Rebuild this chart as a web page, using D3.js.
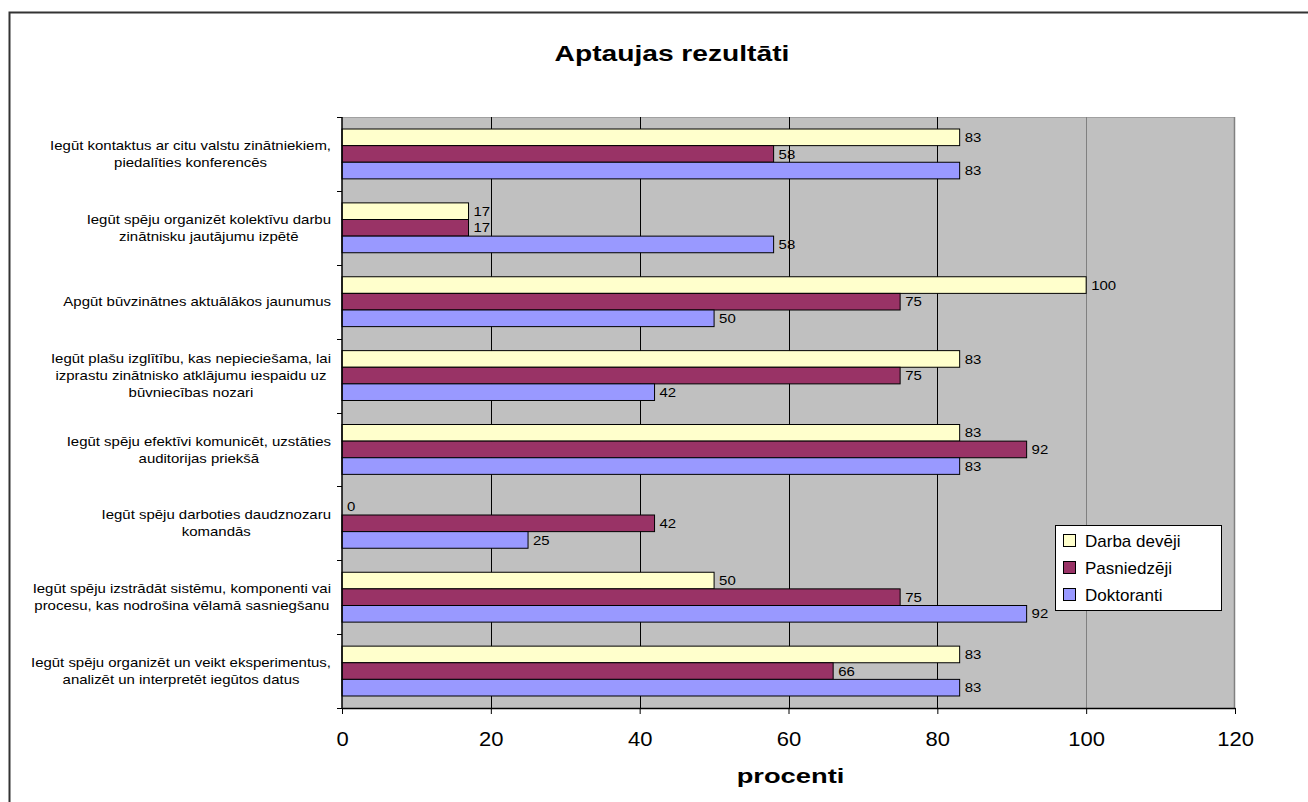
<!DOCTYPE html>
<html>
<head>
<meta charset="utf-8">
<script src="https://cdn.jsdelivr.net/npm/d3@7"></script>
<style>
  html, body { margin: 0; padding: 0; background: #fff; }
  svg { display: block; font-family: Arial, "Liberation Sans", sans-serif; }
</style>
</head>
<body>
<svg id="chart" width="1308" height="802"></svg>
<script>
// Survey statements (each entry holds the wrapped lines of one label)
const categories = [
  ["Iegūt kontaktus ar citu valstu zinātniekiem,", "piedalīties konferencēs"],
  ["Iegūt spēju organizēt kolektīvu darbu", "zinātnisku jautājumu izpētē"],
  ["Apgūt būvzinātnes aktuālākos jaunumus"],
  ["Iegūt plašu izglītību, kas nepieciešama, lai", "izprastu zinātnisko atklājumu iespaidu uz", "būvniecības nozari"],
  ["Iegūt spēju efektīvi komunicēt, uzstāties", "auditorijas priekšā"],
  ["Iegūt spēju darboties daudznozaru", "komandās"],
  ["Iegūt spēju izstrādāt sistēmu, komponenti vai", "procesu, kas nodrošina vēlamā sasniegšanu"],
  ["Iegūt spēju organizēt un veikt eksperimentus,", "analizēt un interpretēt iegūtos datus"]
];
const seriesNames = ["Darba devēji", "Pasniedzēji", "Doktoranti"];
const darbaDeveji = [83, 17, 100, 83, 83, 0, 50, 83];
const pasniedzeji = [58, 17, 75, 75, 92, 42, 75, 66];
const doktoranti  = [83, 58, 50, 42, 83, 25, 92, 83];
const xTicks = [0, 20, 40, 60, 80, 100, 120];
const titleText = "Aptaujas rezultāti";
const xAxisTitle = "procenti";

const seriesValues = [darbaDeveji, pasniedzeji, doktoranti];
const seriesColors = ["#FFFFCC", "#993366", "#9999FF"];

// widen text horizontally (the chart's type is set slightly expanded)
function stretch(sel, factor) {
  sel.each(function () {
    const w = this.getComputedTextLength();
    d3.select(this).attr("textLength", w * factor).attr("lengthAdjust", "spacingAndGlyphs");
  });
  return sel;
}

const svg = d3.select("#chart");

// outer chart frame
svg.append("rect")
  .attr("x", 9.5).attr("y", 12.5)
  .attr("width", 1400).attr("height", 900)
  .attr("fill", "#fff").attr("stroke", "#333").attr("stroke-width", 2);

const plot = { left: 342, right: 1235, top: 117, bottom: 708 };

const x = d3.scaleLinear().domain([0, 120]).range([plot.left, plot.right]);
const catIdx = d3.range(categories.length);
const y = d3.scaleBand().domain(catIdx)
  .range([plot.top, plot.bottom])
  .paddingInner(0.325).paddingOuter(0.1625);
const ySeries = d3.scaleBand().domain(d3.range(seriesNames.length))
  .range([0, y.bandwidth()]);

// plot background
svg.append("rect")
  .attr("x", plot.left).attr("y", plot.top)
  .attr("width", plot.right - plot.left).attr("height", plot.bottom - plot.top)
  .attr("fill", "#C0C0C0");
// top / right edges of the plot area
svg.append("line")
  .attr("x1", plot.left).attr("x2", plot.right)
  .attr("y1", plot.top + 0.5).attr("y2", plot.top + 0.5)
  .attr("stroke", "#a0a0a0").attr("stroke-width", 1);
svg.append("line")
  .attr("x1", plot.right - 0.5).attr("x2", plot.right - 0.5)
  .attr("y1", plot.top).attr("y2", plot.bottom)
  .attr("stroke", "#808080").attr("stroke-width", 1.5);

// vertical gridlines
svg.append("g").selectAll("line")
  .data(xTicks.filter(t => t > 0 && t < 120))
  .join("line")
  .attr("x1", d => Math.round(x(d)) + 0.5).attr("x2", d => Math.round(x(d)) + 0.5)
  .attr("y1", plot.top).attr("y2", plot.bottom)
  .attr("stroke", d => d === 100 ? "#808080" : "#000")
  .attr("stroke-width", 1);

// bars
const groups = svg.append("g").selectAll("g")
  .data(catIdx)
  .join("g")
  .attr("transform", i => `translate(0,${y(i)})`);

groups.selectAll("rect")
  .data(i => seriesValues.map((vals, s) => ({ s, v: vals[i] })))
  .join("rect")
  .attr("x", x(0))
  .attr("y", d => ySeries(d.s))
  .attr("width", d => x(d.v) - x(0))
  .attr("height", ySeries.bandwidth())
  .attr("fill", d => seriesColors[d.s])
  .attr("stroke", "#000")
  .attr("stroke-width", 1);

// value labels
const valueLabels = groups.selectAll("text.val")
  .data(i => seriesValues.map((vals, s) => ({ s, v: vals[i] })))
  .join("text")
  .attr("class", "val")
  .attr("x", d => x(d.v) + 5)
  .attr("y", d => ySeries(d.s) + ySeries.bandwidth() / 2)
  .attr("dy", "0.36em")
  .attr("font-size", 13)
  .attr("fill", "#000")
  .text(d => d.v);
stretch(valueLabels, 1.15);

// x axis
const xAxis = svg.append("g")
  .attr("transform", `translate(0,${plot.bottom})`)
  .call(d3.axisBottom(x).tickValues(xTicks).tickSize(6).tickSizeOuter(0).tickPadding(18));
xAxis.select(".domain").attr("stroke", "#000").attr("stroke-width", 1.5);
xAxis.selectAll(".tick line").attr("stroke", "#000");
const tickText = xAxis.selectAll(".tick text")
  .attr("font-size", 20).attr("font-family", "Arial, 'Liberation Sans', sans-serif")
  .attr("fill", "#000");
stretch(tickText, 1.1);

// y axis line and category separators
svg.append("line")
  .attr("x1", plot.left).attr("x2", plot.left)
  .attr("y1", plot.top).attr("y2", plot.bottom + 1)
  .attr("stroke", "#000").attr("stroke-width", 1.5);
const boundaries = d3.range(categories.length + 1).map(i => plot.top + i * y.step());
svg.append("g").selectAll("line")
  .data(boundaries)
  .join("line")
  .attr("x1", plot.left - 5).attr("x2", plot.left)
  .attr("y1", d => Math.round(d) + 0.5).attr("y2", d => Math.round(d) + 0.5)
  .attr("stroke", "#000");

// category labels: lines centred within a right-aligned block
const labelRight = 331;
const lineH = 17;
const labelStretch = 1.15;
categories.forEach((lines, i) => {
  const g = svg.append("g");
  const texts = lines.map(l => g.append("text").attr("font-size", 13).attr("fill", "#000").text(l));
  const widths = texts.map(t => t.node().getComputedTextLength() * labelStretch);
  const maxW = d3.max(widths);
  const cx = labelRight - maxW / 2;
  const cy = y(i) + y.bandwidth() / 2;
  texts.forEach((t, k) => {
    t.attr("x", cx).attr("text-anchor", "middle")
     .attr("y", cy + (k - (lines.length - 1) / 2) * lineH)
     .attr("dy", "0.36em")
     .attr("textLength", widths[k]).attr("lengthAdjust", "spacingAndGlyphs");
  });
});

// title and axis title
const title = svg.append("text")
  .attr("x", 672).attr("y", 53).attr("dy", "0.35em")
  .attr("text-anchor", "middle")
  .attr("font-size", 22).attr("font-weight", "bold")
  .text(titleText);
stretch(title, 1.28);
const axisTitle = svg.append("text")
  .attr("x", (plot.left + plot.right) / 2 + 2).attr("y", 776).attr("dy", "0.35em")
  .attr("text-anchor", "middle")
  .attr("font-size", 21).attr("font-weight", "bold")
  .text(xAxisTitle);
stretch(axisTitle, 1.3);

// legend
const legend = { x: 1055, y: 525, w: 166, rowH: 27 };
const lg = svg.append("g");
lg.append("rect")
  .attr("x", legend.x + 0.5).attr("y", legend.y + 0.5)
  .attr("width", legend.w).attr("height", legend.rowH * seriesNames.length + 4)
  .attr("fill", "#fff").attr("stroke", "#000").attr("stroke-width", 1);
seriesNames.forEach((name, s) => {
  const cy = legend.y + 16 + s * legend.rowH;
  lg.append("rect")
    .attr("x", legend.x + 8.5).attr("y", cy - 6.5)
    .attr("width", 12).attr("height", 12)
    .attr("fill", seriesColors[s]).attr("stroke", "#000");
  lg.append("text")
    .attr("x", legend.x + 30).attr("y", cy).attr("dy", "0.35em")
    .attr("font-size", 17).attr("fill", "#000")
    .text(name);
});
</script>
</body>
</html>
